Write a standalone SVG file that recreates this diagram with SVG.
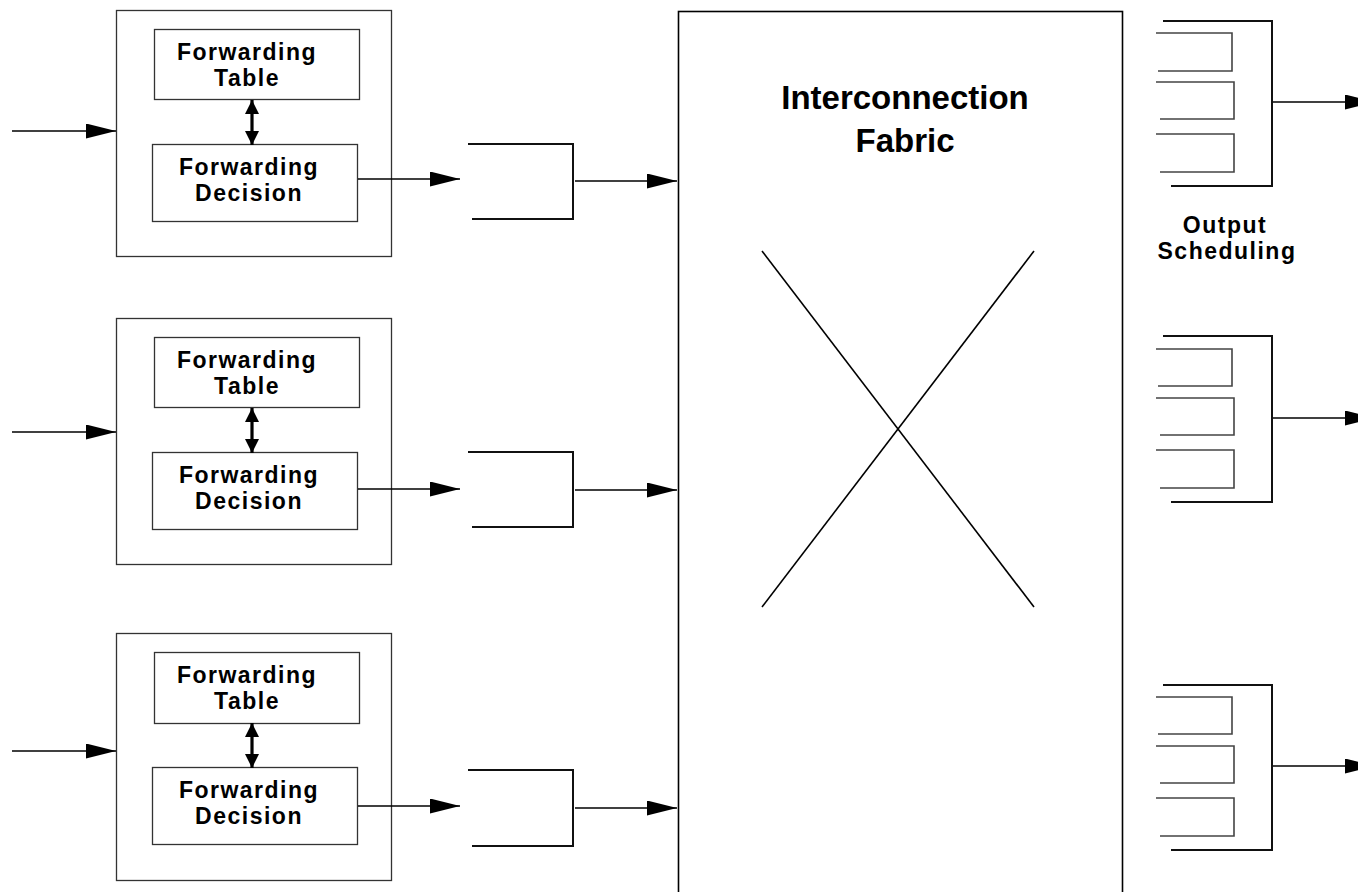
<svg xmlns="http://www.w3.org/2000/svg" width="1358" height="892" viewBox="0 0 1358 892">
<style>
.box{fill:#fff;stroke:#333;stroke-width:1.3}
.ln{fill:none;stroke:#000;stroke-width:1.6}
.q{fill:none;stroke:#111;stroke-width:2}
.bin{fill:none;stroke:#444;stroke-width:1.6}
.dbl{stroke:#000;stroke-width:3.2}
.lbl{font-family:"Liberation Sans",Arial,sans-serif;font-weight:bold;font-size:23px;letter-spacing:1.5px;text-anchor:middle;fill:#000}
.big{font-family:"Liberation Sans",Arial,sans-serif;font-weight:bold;font-size:33px;text-anchor:middle;fill:#000}
</style>
<defs>
<marker id="arr" markerUnits="userSpaceOnUse" viewBox="0 0 30 15" refX="30" refY="7.5" markerWidth="30" markerHeight="15" orient="auto"><path d="M0,0 L30,7.5 L0,15 z" fill="#000"/></marker>
<marker id="dh" markerUnits="userSpaceOnUse" viewBox="0 0 14 14" refX="14" refY="7" markerWidth="14" markerHeight="14" orient="auto-start-reverse"><path d="M0,0 L14,7 L0,14 z" fill="#000"/></marker>
</defs>

<g id="fabric">
<rect class="box" x="678.5" y="11.5" width="444" height="900" style="stroke:#000;stroke-width:1.6"/>
<text class="big" x="905" y="109">Interconnection</text>
<text class="big" x="905" y="152">Fabric</text>
<line class="ln" x1="762" y1="251" x2="1034" y2="607"/>
<line class="ln" x1="1034" y1="251" x2="762" y2="607"/>
</g>

<g id="linecard1">
<rect class="box" x="116.5" y="10.5" width="275" height="246"/>
<rect class="box" x="154.5" y="29.5" width="205" height="70"/>
<text class="lbl" x="247" y="60">Forwarding</text>
<text class="lbl" x="247" y="86">Table</text>
<rect class="box" x="152.5" y="144.5" width="205" height="77"/>
<text class="lbl" x="249" y="175">Forwarding</text>
<text class="lbl" x="249" y="201">Decision</text>
</g>
<g id="linecard2">
<rect class="box" x="116.5" y="318.5" width="275" height="246"/>
<rect class="box" x="154.5" y="337.5" width="205" height="70"/>
<text class="lbl" x="247" y="368">Forwarding</text>
<text class="lbl" x="247" y="394">Table</text>
<rect class="box" x="152.5" y="452.5" width="205" height="77"/>
<text class="lbl" x="249" y="483">Forwarding</text>
<text class="lbl" x="249" y="509">Decision</text>
</g>
<g id="linecard3">
<rect class="box" x="116.5" y="633.5" width="275" height="247"/>
<rect class="box" x="154.5" y="652.5" width="205" height="71"/>
<text class="lbl" x="247" y="683">Forwarding</text>
<text class="lbl" x="247" y="709">Table</text>
<rect class="box" x="152.5" y="767.5" width="205" height="77"/>
<text class="lbl" x="249" y="798">Forwarding</text>
<text class="lbl" x="249" y="824">Decision</text>
</g>

<g id="inqueue1"><path class="q" d="M468,144 H573 V219 H472"/></g>
<g id="inqueue2"><path class="q" d="M468,452 H573 V527 H472"/></g>
<g id="inqueue3"><path class="q" d="M468,770 H573 V846 H472"/></g>

<g id="outqueue1">
<path class="q" d="M1163,21 H1272 V186 H1171"/>
<path class="bin" d="M1156,33 H1232 V71 H1158"/>
<path class="bin" d="M1156,82 H1234 V119 H1160"/>
<path class="bin" d="M1156,134 H1234 V172 H1160"/>
</g>
<g id="outqueue2">
<path class="q" d="M1163,336 H1272 V502 H1171"/>
<path class="bin" d="M1156,349 H1232 V386 H1158"/>
<path class="bin" d="M1156,398 H1234 V435 H1160"/>
<path class="bin" d="M1156,450 H1234 V488 H1160"/>
</g>
<g id="outqueue3">
<path class="q" d="M1163,685 H1272 V850 H1171"/>
<path class="bin" d="M1156,697 H1232 V734 H1158"/>
<path class="bin" d="M1156,746 H1234 V783 H1160"/>
<path class="bin" d="M1156,798 H1234 V836 H1160"/>
</g>
<g id="label-output">
<text class="lbl" x="1225" y="233">Output</text>
<text class="lbl" x="1227" y="259">Scheduling</text>
</g>

<g id="connectors">
<line class="ln" x1="12" y1="131" x2="116" y2="131" marker-end="url(#arr)"/>
<line class="ln" x1="12" y1="432" x2="116" y2="432" marker-end="url(#arr)"/>
<line class="ln" x1="12" y1="751" x2="116" y2="751" marker-end="url(#arr)"/>

<line class="dbl" x1="252" y1="100" x2="252" y2="145" marker-start="url(#dh)" marker-end="url(#dh)"/>
<line class="dbl" x1="252" y1="408" x2="252" y2="453" marker-start="url(#dh)" marker-end="url(#dh)"/>
<line class="dbl" x1="252" y1="723" x2="252" y2="768" marker-start="url(#dh)" marker-end="url(#dh)"/>

<line class="ln" x1="358" y1="179" x2="460" y2="179" marker-end="url(#arr)"/>
<line class="ln" x1="358" y1="489" x2="460" y2="489" marker-end="url(#arr)"/>
<line class="ln" x1="358" y1="806" x2="460" y2="806" marker-end="url(#arr)"/>

<line class="ln" x1="575" y1="181" x2="677" y2="181" marker-end="url(#arr)"/>
<line class="ln" x1="575" y1="490" x2="677" y2="490" marker-end="url(#arr)"/>
<line class="ln" x1="575" y1="808" x2="677" y2="808" marker-end="url(#arr)"/>

<line class="ln" x1="1273" y1="102" x2="1375" y2="102" marker-end="url(#arr)"/>
<line class="ln" x1="1273" y1="418" x2="1375" y2="418" marker-end="url(#arr)"/>
<line class="ln" x1="1273" y1="766" x2="1375" y2="766" marker-end="url(#arr)"/>
</g>
</svg>
